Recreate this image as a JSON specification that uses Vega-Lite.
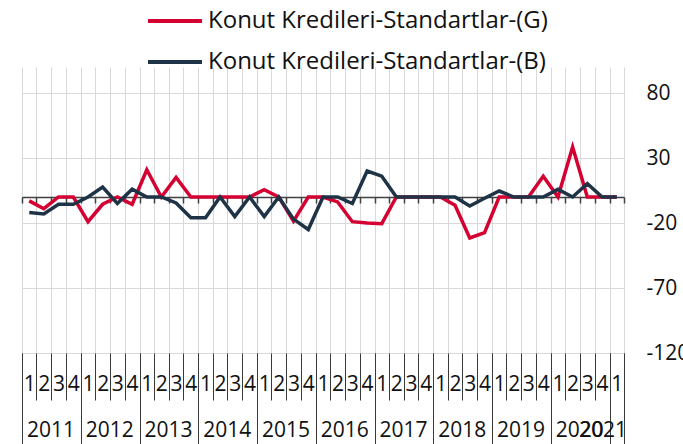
{
  "$schema": "https://vega.github.io/schema/vega-lite/v6.json",
  "width": 602,
  "height": 286,
  "autosize": {"type": "none"},
  "padding": {"left": 22, "top": 67, "right": 59, "bottom": 91},
  "background": "white",
  "config": {
    "view": {"stroke": null},
    "font": "Open Sans",
    "axis": {"labelFont": "Open Sans", "labelColor": "#111111", "title": null}
  },
  "data": {
    "values": [
      {"q": "2011-01-01", "G": -3, "B": -12},
      {"q": "2011-04-01", "G": -9, "B": -13},
      {"q": "2011-07-01", "G": 0, "B": -5.6},
      {"q": "2011-10-01", "G": 0, "B": -5.6},
      {"q": "2012-01-01", "G": -19, "B": 0},
      {"q": "2012-04-01", "G": -5.6, "B": 7.7},
      {"q": "2012-07-01", "G": 0, "B": -5},
      {"q": "2012-10-01", "G": -5.6, "B": 6},
      {"q": "2013-01-01", "G": 21, "B": 0},
      {"q": "2013-04-01", "G": 0, "B": 0},
      {"q": "2013-07-01", "G": 15, "B": -4.6},
      {"q": "2013-10-01", "G": 0, "B": -16},
      {"q": "2014-01-01", "G": 0, "B": -16},
      {"q": "2014-04-01", "G": 0, "B": 0},
      {"q": "2014-07-01", "G": 0, "B": -15},
      {"q": "2014-10-01", "G": 0, "B": 0},
      {"q": "2015-01-01", "G": 5.6, "B": -15},
      {"q": "2015-04-01", "G": 0, "B": 0},
      {"q": "2015-07-01", "G": -18.5, "B": -17},
      {"q": "2015-10-01", "G": 0, "B": -25},
      {"q": "2016-01-01", "G": 0, "B": 0},
      {"q": "2016-04-01", "G": -3.8, "B": 0},
      {"q": "2016-07-01", "G": -19, "B": -5},
      {"q": "2016-10-01", "G": -20, "B": 20},
      {"q": "2017-01-01", "G": -20.5, "B": 16},
      {"q": "2017-04-01", "G": 0, "B": 0},
      {"q": "2017-07-01", "G": 0, "B": 0},
      {"q": "2017-10-01", "G": 0, "B": 0},
      {"q": "2018-01-01", "G": 0, "B": 0},
      {"q": "2018-04-01", "G": -6.4, "B": 0},
      {"q": "2018-07-01", "G": -31.5, "B": -6.9},
      {"q": "2018-10-01", "G": -27.4, "B": -1},
      {"q": "2019-01-01", "G": 0, "B": 4.6},
      {"q": "2019-04-01", "G": 0, "B": 0},
      {"q": "2019-07-01", "G": 0, "B": 0},
      {"q": "2019-10-01", "G": 16, "B": 0},
      {"q": "2020-01-01", "G": 0, "B": 5.9},
      {"q": "2020-04-01", "G": 38.5, "B": 0},
      {"q": "2020-07-01", "G": 0, "B": 10.3},
      {"q": "2020-10-01", "G": 0, "B": 0},
      {"q": "2021-01-01", "G": 0, "B": 0}
    ]
  },
  "transform": [
    {"fold": ["G", "B"], "as": ["key", "value"]},
    {"calculate": "datum.key == 'G' ? 'Konut Kredileri-Standartlar-(G)' : 'Konut Kredileri-Standartlar-(B)'", "as": "series"}
  ],
  "layer": [
    {
      "mark": {"type": "line", "strokeWidth": 3.5, "strokeJoin": "miter"},
      "encoding": {
        "x": {
          "field": "q", "type": "temporal", "timeUnit": "utcyearquarter", "bandPosition": 0.5,
          "scale": {"type": "utc", "domain": [{"year": 2011, "month": 1, "date": 1, "utc": true}, {"year": 2021, "month": 4, "date": 1, "utc": true}], "nice": false},
          "axis": {
            "orient": "bottom",
            "tickCount": {"interval": "month", "step": 3},
            "grid": true, "gridColor": "#d9d9d9", "gridWidth": 1,
            "domain": false,
            "ticks": true, "tickSize": 47, "tickColor": "#3a3a3a", "tickWidth": 1,
            "labelExpr": "datum.value >= 1617235200000 ? '' : '' + utcquarter(datum.value)",
            "labelOffset": 7.3, "labelPadding": -16, "labelBaseline": "middle", "labelAlign": "center",
            "labelFontSize": 21, "labelOverlap": false, "labelBound": false, "labelFlush": false
          }
        },
        "y": {
          "field": "value", "type": "quantitative",
          "scale": {"domain": [-120, 100], "nice": false, "zero": false},
          "axis": {
            "orient": "right", "values": [-120, -70, -20, 30, 80],
            "labelExpr": "'' + datum.value",
            "grid": true, "gridColor": "#d9d9d9", "gridWidth": 1,
            "domain": false, "ticks": false, "labelPadding": 22,
            "labelFontSize": 21, "labelAlign": "left", "labelBaseline": "middle"
          }
        },
        "color": {
          "field": "series", "type": "nominal",
          "scale": {"domain": ["Konut Kredileri-Standartlar-(G)", "Konut Kredileri-Standartlar-(B)"], "range": ["#d50032", "#1f3347"]},
          "legend": {
            "orient": "none", "legendX": 124, "legendY": -75, "direction": "vertical", "title": null,
            "symbolType": "stroke", "symbolSize": 2916, "symbolStrokeWidth": 4,
            "labelFontSize": 24, "labelFont": "Open Sans", "labelColor": "#111111", "labelOffset": 4, "labelLimit": 700, "rowPadding": 0
          }
        }
      }
    },
    {
      "mark": {"type": "line", "strokeOpacity": 0},
      "encoding": {
        "x": {
          "field": "q", "type": "temporal", "timeUnit": "utcyearquarter", "bandPosition": 0.5,
          "axis": {
            "orient": "bottom", "offset": -156,
            "tickCount": {"interval": "month", "step": 3},
            "grid": false, "domain": true, "domainColor": "#404040", "domainWidth": 1.5,
            "ticks": true, "tickSize": 6, "tickColor": "#404040", "tickWidth": 1.5,
            "labels": false
          }
        },
        "y": {"field": "value", "type": "quantitative", "axis": null},
        "detail": {"field": "series"}
      }
    },
    {
      "mark": {"type": "line", "strokeOpacity": 0},
      "encoding": {
        "x": {
          "field": "q", "type": "temporal", "timeUnit": "utcyearquarter", "bandPosition": 0.5,
          "axis": {
            "orient": "bottom",
            "values": [
              {"year": 2011, "month": 1, "date": 1, "utc": true},
              {"year": 2012, "month": 1, "date": 1, "utc": true},
              {"year": 2013, "month": 1, "date": 1, "utc": true},
              {"year": 2014, "month": 1, "date": 1, "utc": true},
              {"year": 2015, "month": 1, "date": 1, "utc": true},
              {"year": 2016, "month": 1, "date": 1, "utc": true},
              {"year": 2017, "month": 1, "date": 1, "utc": true},
              {"year": 2018, "month": 1, "date": 1, "utc": true},
              {"year": 2019, "month": 1, "date": 1, "utc": true},
              {"year": 2020, "month": 1, "date": 1, "utc": true},
              {"year": 2021, "month": 1, "date": 1, "utc": true},
              {"year": 2021, "month": 4, "date": 1, "utc": true}
            ],
            "grid": false, "domain": false,
            "ticks": true, "tickSize": 91, "tickColor": "#3a3a3a", "tickWidth": 1,
            "labelExpr": "datum.value >= 1617235200000 ? '' : '' + utcyear(datum.value)",
            "labelOffset": {"condition": {"test": "utcyear(datum.value) == 2021", "value": -7}, "value": 28.5},
            "labelPadding": -14, "labelBaseline": "middle", "labelAlign": "center",
            "labelFontSize": 21, "labelOverlap": false, "labelBound": false, "labelFlush": false
          }
        },
        "y": {"field": "value", "type": "quantitative", "axis": null},
        "detail": {"field": "series"}
      }
    }
  ],
  "resolve": {"axis": {"x": "independent", "y": "independent"}}
}
